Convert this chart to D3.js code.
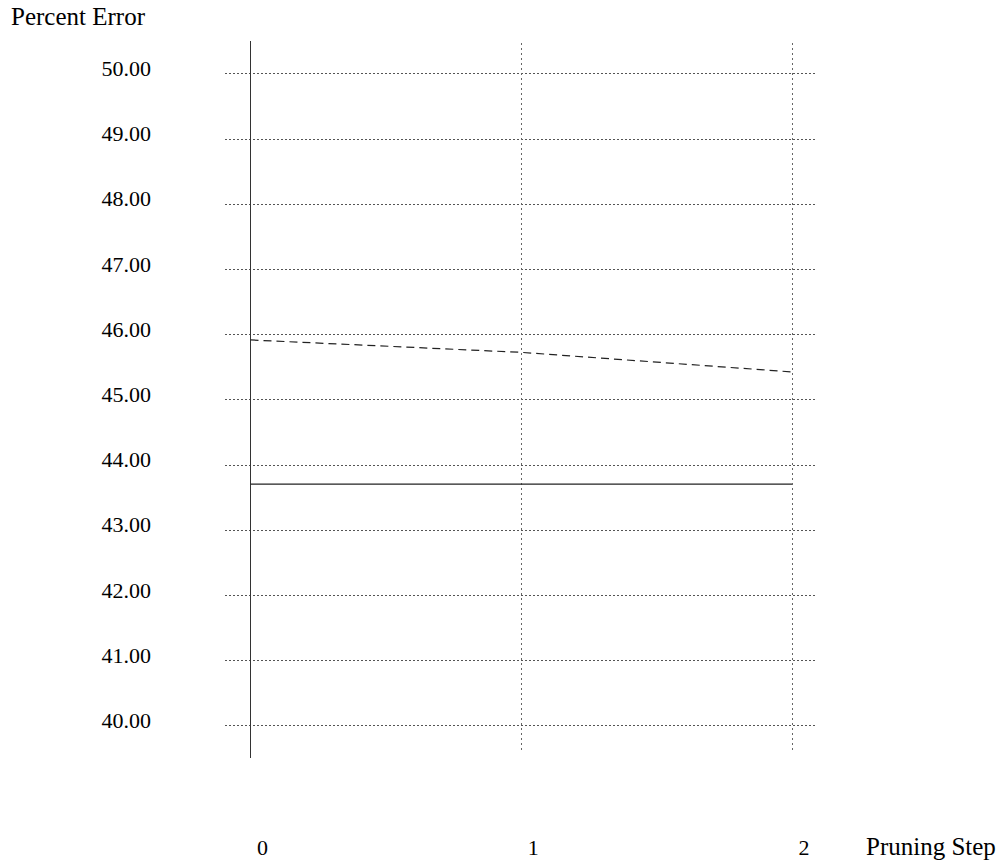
<!DOCTYPE html>
<html>
<head>
<meta charset="utf-8">
<script src="https://cdn.jsdelivr.net/npm/d3@7"></script>
<style>
  body { margin: 0; background: #fff; }
  svg { display: block; font-family: 'Liberation Serif', 'Times New Roman', serif; }
  .tick line { shape-rendering: crispEdges; }
</style>
</head>
<body>
<div id="chart"></div>
<script>
const steps = [0, 1, 2];
const yTicks = [40, 41, 42, 43, 44, 45, 46, 47, 48, 49, 50];
const solidSeries = [43.70, 43.70, 43.70];
const dashedSeries = [45.91, 45.72, 45.42];

const width = 1001;
const height = 863;
const tickFont = 22;
const titleFont = 25;

const x = d3.scaleLinear().domain([0, 2]).range([250.5, 792]);
const y = d3.scaleLinear().domain([40, 50]).range([725.3, 73.3]);

const svg = d3.select('#chart')
  .append('svg')
  .attr('width', width)
  .attr('height', height);

// horizontal dotted grid + y tick labels
const yAxis = svg.append('g')
  .attr('transform', 'translate(225,0)')
  .call(d3.axisLeft(y)
    .tickValues(yTicks)
    .tickFormat(d3.format('.2f'))
    .tickSizeInner(-(817 - 225))
    .tickSizeOuter(0)
    .tickPadding(74));
yAxis.select('.domain').remove();
yAxis.selectAll('.tick line')
  .attr('stroke', '#555')
  .attr('stroke-dasharray', '2,2');
yAxis.selectAll('.tick text')
  .attr('fill', '#000')
  .attr('font-size', tickFont)
  .attr('font-family', 'Liberation Serif, serif')
  .attr('dy', '0.1em');

// vertical grid lines: solid at step 0, dotted elsewhere
svg.append('g')
  .selectAll('line')
  .data(steps)
  .join('line')
  .attr('x1', (d) => x(d))
  .attr('x2', (d) => x(d))
  .attr('y1', (d) => (d === 0 ? 41 : 43))
  .attr('y2', (d) => (d === 0 ? 758 : 752))
  .attr('stroke', (d) => (d === 0 ? '#333' : '#666'))
  .attr('stroke-width', 1)
  .attr('stroke-dasharray', (d) => (d === 0 ? null : '2,3'))
  .style('shape-rendering', 'crispEdges');

// x tick labels
const xAxis = svg.append('g')
  .attr('transform', 'translate(0,855)')
  .call(d3.axisBottom(x)
    .tickValues(steps)
    .tickFormat(d3.format('d'))
    .tickSize(0)
    .tickPadding(0));
xAxis.select('.domain').remove();
xAxis.selectAll('.tick text')
  .attr('fill', '#000')
  .attr('font-size', tickFont)
  .attr('font-family', 'Liberation Serif, serif')
  .attr('text-anchor', 'start')
  .attr('dx', 6)
  .attr('dy', 0);

// series
const line = d3.line()
  .x((d, i) => x(steps[i]))
  .y((d) => y(d));

svg.append('path')
  .datum(solidSeries)
  .attr('d', line)
  .attr('fill', 'none')
  .attr('stroke', '#222')
  .attr('stroke-width', 1.2);

svg.append('path')
  .datum(dashedSeries)
  .attr('d', line)
  .attr('fill', 'none')
  .attr('stroke', '#222')
  .attr('stroke-width', 1.2)
  .attr('stroke-dasharray', '8,5');

// axis titles
svg.append('text')
  .attr('x', 11)
  .attr('y', 25)
  .attr('font-size', titleFont)
  .text('Percent Error');

svg.append('text')
  .attr('x', 866)
  .attr('y', 855)
  .attr('font-size', titleFont)
  .text('Pruning Step');
</script>
</body>
</html>
